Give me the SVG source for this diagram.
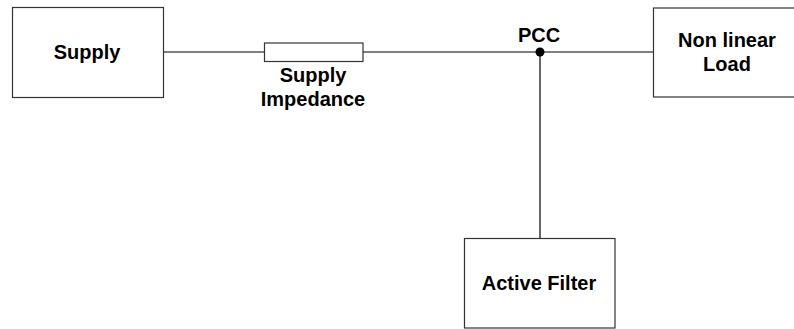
<svg xmlns="http://www.w3.org/2000/svg" width="794" height="329" viewBox="0 0 794 329">
<style>
.box{fill:#fff;stroke:#333;stroke-width:1.2}
.t{font-family:"Liberation Sans",Arial,sans-serif;font-weight:bold;font-size:20px;fill:#000;text-anchor:middle}
.w{stroke:#000;stroke-width:1.2;fill:none}
</style>
<rect width="794" height="329" fill="#fff"/>
<g id="connectors">
<line class="w" x1="163" y1="52" x2="264" y2="52"/>
<line class="w" x1="363" y1="52" x2="653" y2="52"/>
<line class="w" x1="540" y1="52" x2="540" y2="238" stroke="#444"/>
</g>
<g id="supply">
<rect class="box" x="12.5" y="7.5" width="151" height="90"/>
<text class="t" x="87" y="59">Supply</text>
</g>
<g id="impedance">
<rect class="box" x="264.5" y="43" width="98.5" height="18.5"/>
<text class="t" x="313" y="81.5">Supply</text>
<text class="t" x="313" y="105.5">Impedance</text>
</g>
<g id="pcc">
<circle cx="540" cy="52" r="4.5" fill="#000"/>
<text class="t" x="539" y="42">PCC</text>
</g>
<g id="load">
<rect class="box" x="653.5" y="8" width="150" height="89"/>
<text class="t" x="727" y="46.5">Non linear</text>
<text class="t" x="727" y="70.5">Load</text>
</g>
<g id="filter">
<rect class="box" x="464.5" y="238.5" width="150.5" height="89.5"/>
<text class="t" x="539" y="290">Active Filter</text>
</g>
</svg>
